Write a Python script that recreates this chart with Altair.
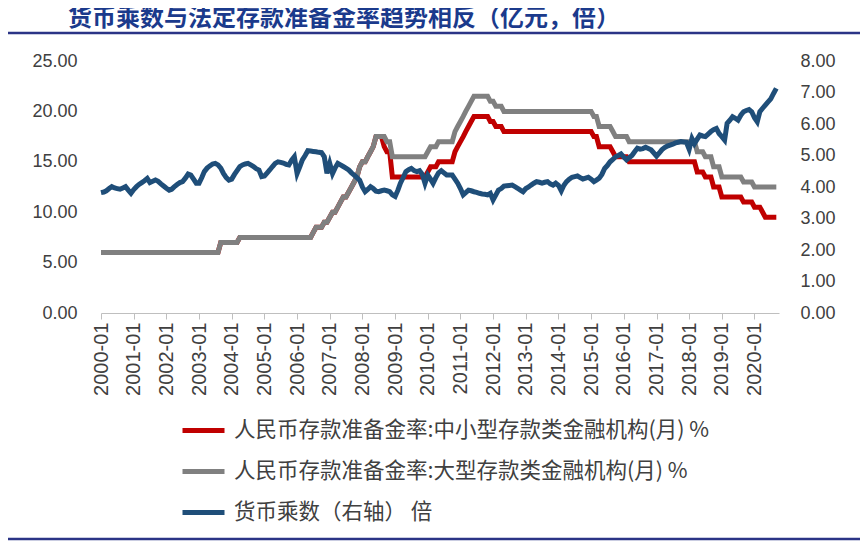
import altair as alt
import pandas as pd

TITLE = "货币乘数与法定存款准备金率趋势相反（亿元，倍）"
SMALL = "人民币存款准备金率:中小型存款类金融机构(月) %"
LARGE = "人民币存款准备金率:大型存款类金融机构(月) %"
MULT = "货币乘数（右轴） 倍"

# Monthly values, 2000-01 .. 2020-09
small_rrr = (
    [6, 6, 6, 6, 6, 6, 6, 6, 6, 6, 6, 6]
    + [6, 6, 6, 6, 6, 6, 6, 6, 6, 6, 6, 6]
    + [6, 6, 6, 6, 6, 6, 6, 6, 6, 6, 6, 6]
    + [6, 6, 6, 6, 6, 6, 6, 6, 7, 7, 7, 7]
    + [7, 7, 7, 7.5, 7.5, 7.5, 7.5, 7.5, 7.5, 7.5, 7.5, 7.5]
    + [7.5, 7.5, 7.5, 7.5, 7.5, 7.5, 7.5, 7.5, 7.5, 7.5, 7.5, 7.5]
    + [7.5, 7.5, 7.5, 7.5, 7.5, 7.5, 8, 8.5, 8.5, 8.5, 9, 9]
    + [9.5, 10, 10, 10.5, 11, 11.5, 11.5, 12, 12.5, 13, 13.5, 14.5]
    + [15, 15, 15.5, 16, 16.5, 17.5, 17.5, 17.5, 16.5, 16, 16, 13.5]
    + [13.5, 13.5, 13.5, 13.5, 13.5, 13.5, 13.5, 13.5, 13.5, 13.5, 13.5, 13.5]
    + [14, 14.5, 14.5, 14.5, 15, 15, 15, 15, 15, 15, 16, 16.5]
    + [17, 17.5, 18, 18.5, 19, 19.5, 19.5, 19.5, 19.5, 19.5, 19.5, 19]
    + [19, 18.5, 18.5, 18.5, 18, 18, 18, 18, 18, 18, 18, 18]
    + [18, 18, 18, 18, 18, 18, 18, 18, 18, 18, 18, 18]
    + [18, 18, 18, 18, 18, 18, 18, 18, 18, 18, 18, 18]
    + [18, 17.5, 17.5, 16.5, 16.5, 16.5, 16.5, 16.5, 16, 15.5, 15.5, 15.5]
    + [15.5, 15.5, 15, 15, 15, 15, 15, 15, 15, 15, 15, 15]
    + [15, 15, 15, 15, 15, 15, 15, 15, 15, 15, 15, 15]
    + [15, 15, 15, 14, 14, 14, 13.5, 13.5, 13.5, 12.5, 12.5, 12.5]
    + [11.5, 11.5, 11.5, 11.5, 11.5, 11.5, 11.5, 11.5, 11, 11, 11, 11]
    + [10.5, 10.5, 10.5, 10, 9.5, 9.5, 9.5, 9.5, 9.5]
)

large_rrr = (
    [6, 6, 6, 6, 6, 6, 6, 6, 6, 6, 6, 6]
    + [6, 6, 6, 6, 6, 6, 6, 6, 6, 6, 6, 6]
    + [6, 6, 6, 6, 6, 6, 6, 6, 6, 6, 6, 6]
    + [6, 6, 6, 6, 6, 6, 6, 6, 7, 7, 7, 7]
    + [7, 7, 7, 7.5, 7.5, 7.5, 7.5, 7.5, 7.5, 7.5, 7.5, 7.5]
    + [7.5, 7.5, 7.5, 7.5, 7.5, 7.5, 7.5, 7.5, 7.5, 7.5, 7.5, 7.5]
    + [7.5, 7.5, 7.5, 7.5, 7.5, 7.5, 8, 8.5, 8.5, 8.5, 9, 9]
    + [9.5, 10, 10, 10.5, 11, 11.5, 11.5, 12, 12.5, 13, 13.5, 14.5]
    + [15, 15, 15.5, 16, 16.5, 17.5, 17.5, 17.5, 17.5, 17, 17, 15.5]
    + [15.5, 15.5, 15.5, 15.5, 15.5, 15.5, 15.5, 15.5, 15.5, 15.5, 15.5, 15.5]
    + [16, 16.5, 16.5, 16.5, 17, 17, 17, 17, 17, 17, 18, 18.5]
    + [19, 19.5, 20, 20.5, 21, 21.5, 21.5, 21.5, 21.5, 21.5, 21.5, 21]
    + [21, 20.5, 20.5, 20.5, 20, 20, 20, 20, 20, 20, 20, 20]
    + [20, 20, 20, 20, 20, 20, 20, 20, 20, 20, 20, 20]
    + [20, 20, 20, 20, 20, 20, 20, 20, 20, 20, 20, 20]
    + [20, 19.5, 19.5, 18.5, 18.5, 18.5, 18.5, 18.5, 18, 17.5, 17.5, 17.5]
    + [17.5, 17.5, 17, 17, 17, 17, 17, 17, 17, 17, 17, 17]
    + [17, 17, 17, 17, 17, 17, 17, 17, 17, 17, 17, 17]
    + [17, 17, 17, 16, 16, 16, 15.5, 15.5, 15.5, 14.5, 14.5, 14.5]
    + [13.5, 13.5, 13.5, 13.5, 13.5, 13.5, 13.5, 13.5, 13, 13, 13, 13]
    + [12.5, 12.5, 12.5, 12.5, 12.5, 12.5, 12.5, 12.5, 12.5]
)

multiplier = (
    [3.82, 3.84, 3.88, 3.95, 4.01, 3.97, 3.95, 3.93, 3.97, 4.01, 3.90, 3.80]
    + [3.92, 4.01, 4.08, 4.14, 4.20, 4.27, 4.14, 4.18, 4.22, 4.18, 4.10, 4.03]
    + [3.96, 3.90, 3.93, 4.01, 4.08, 4.14, 4.17, 4.28, 4.41, 4.38, 4.25, 4.12]
    + [4.12, 4.30, 4.49, 4.60, 4.67, 4.73, 4.75, 4.70, 4.60, 4.43, 4.30, 4.22]
    + [4.25, 4.40, 4.52, 4.65, 4.70, 4.73, 4.75, 4.70, 4.65, 4.58, 4.54, 4.33]
    + [4.35, 4.45, 4.54, 4.65, 4.75, 4.80, 4.78, 4.76, 4.72, 4.70, 4.85, 4.96]
    + [4.43, 4.65, 4.86, 5.00, 5.15, 5.14, 5.13, 5.12, 5.10, 5.09, 4.96, 4.43]
    + [4.75, 4.43, 4.60, 4.75, 4.70, 4.65, 4.60, 4.54, 4.45, 4.38, 4.30, 4.22]
    + [4.00, 3.85, 3.92, 4.01, 3.95, 3.87, 3.85, 3.88, 3.90, 3.88, 3.85, 3.75]
    + [3.70, 3.90, 4.12, 4.30, 4.49, 4.55, 4.59, 4.52, 4.49, 4.52, 4.40, 4.12]
    + [4.38, 4.25, 4.12, 4.30, 4.45, 4.52, 4.45, 4.38, 4.38, 4.38, 4.25, 4.12]
    + [3.95, 3.75, 3.82, 3.90, 3.88, 3.85, 3.83, 3.80, 3.78, 3.77, 3.75, 3.80]
    + [3.59, 3.75, 3.90, 3.95, 4.03, 4.04, 4.05, 4.06, 4.01, 3.96, 3.90, 3.85]
    + [3.95, 4.00, 4.06, 4.12, 4.17, 4.15, 4.12, 4.15, 4.17, 4.10, 4.06, 4.12]
    + [4.05, 3.88, 4.05, 4.17, 4.25, 4.31, 4.33, 4.35, 4.30, 4.25, 4.28, 4.31]
    + [4.25, 4.17, 4.22, 4.28, 4.40, 4.59, 4.68, 4.80, 4.88, 4.96, 5.00, 5.05]
    + [4.95, 4.86, 4.93, 5.00, 5.12, 5.23, 5.20, 5.22, 5.26, 5.22, 5.18, 5.08]
    + [4.98, 5.08, 5.18, 5.25, 5.30, 5.33, 5.36, 5.40, 5.42, 5.44, 5.43, 5.42]
    + [5.20, 5.54, 5.38, 5.52, 5.65, 5.62, 5.60, 5.68, 5.76, 5.82, 5.86, 5.70]
    + [5.60, 5.49, 6.02, 6.12, 6.23, 6.18, 6.12, 6.28, 6.39, 6.43, 6.46, 6.39]
    + [6.20, 6.07, 6.39, 6.50, 6.60, 6.70, 6.80, 6.97, 7.13]
)

tick_years = list(range(2000, 2021))

months = pd.date_range("2000-01-01", periods=len(multiplier), freq="MS")
small_df = pd.DataFrame({"date": months, "series": SMALL, "value": small_rrr})
large_df = pd.DataFrame({"date": months, "series": LARGE, "value": large_rrr})
mult_df = pd.DataFrame({"date": months, "series": MULT, "value": multiplier})

NUM_FONT = "Liberation Sans"
CJK_FONT = "Noto Sans CJK SC"
TXT = "#404040"

x_enc = alt.X(
    "date:T",
    title=None,
    scale=alt.Scale(domain=[alt.DateTime(year=2000, month=1, date=1),
                            alt.DateTime(year=2020, month=10, date=1)]),
    axis=alt.Axis(
        values=[alt.DateTime(year=y, month=1, date=1) for y in tick_years],
        format="%Y-%m",
        labelAngle=270,
        labelFont=NUM_FONT,
        labelFontSize=20,
        labelColor=TXT,
        labelPadding=3,
        tickSize=6,
        tickColor="#BFBFBF",
        domainColor="#BFBFBF",
        grid=False,
        labelOverlap=False,
    ),
)

color_enc = alt.Color(
    "series:N",
    scale=alt.Scale(domain=[SMALL, LARGE, MULT],
                    range=["#C00000", "#808080", "#1F4E79"]),
    legend=alt.Legend(
        title=None,
        orient="none",
        legendX=79,
        legendY=346,
        direction="vertical",
        symbolType="stroke",
        symbolSize=1764,
        symbolStrokeWidth=5,
        labelFont=CJK_FONT,
        labelFontSize=21.5,
        labelColor=TXT,
        labelLimit=800,
        labelOffset=7,
        rowPadding=7,
    ),
)

left_y = alt.Y(
    "value:Q",
    title=None,
    scale=alt.Scale(domain=[0, 25]),
    axis=alt.Axis(orient="left", values=[0, 5, 10, 15, 20, 25], format=".2f",
                  grid=False, domain=False, ticks=False, labelPadding=24,
                  labelFont=NUM_FONT, labelFontSize=18, labelColor=TXT),
)
right_y = alt.Y(
    "value:Q",
    title=None,
    scale=alt.Scale(domain=[0, 8]),
    axis=alt.Axis(orient="right", values=[0, 1, 2, 3, 4, 5, 6, 7, 8], format=".2f",
                  grid=False, domain=False, ticks=False, labelPadding=21,
                  labelFont=NUM_FONT, labelFontSize=18, labelColor=TXT),
)

red = alt.Chart(small_df).mark_line(strokeWidth=5).encode(x=x_enc, y=left_y, color=color_enc)
gray = alt.Chart(large_df).mark_line(strokeWidth=5).encode(x=x_enc, y=left_y, color=color_enc)
blue = alt.Chart(mult_df).mark_line(strokeWidth=5).encode(x=x_enc, y=right_y, color=color_enc)

one = pd.DataFrame({"k": [0]})
top_rule = alt.Chart(one).mark_rule(color="#2B3486", strokeWidth=2.5).encode(
    x=alt.value(-93), x2=alt.value(759), y=alt.value(-28))
bottom_rule = alt.Chart(one).mark_rule(color="#2B3486", strokeWidth=2.5).encode(
    x=alt.value(-93), x2=alt.value(759), y=alt.value(478))

chart = (
    alt.layer(alt.layer(red, gray), blue, top_rule, bottom_rule)
    .resolve_scale(y="independent")
    .properties(
        width=678,
        height=252,
        autosize=alt.AutoSizeParams(type="none"),
        padding={"left": 93, "top": 53, "right": 81, "bottom": 228},
        title=alt.TitleParams(
            text=TITLE, anchor="start", frame="group", dx=-33, offset=1,
            font=CJK_FONT, fontSize=24, fontWeight="bold", color="#1B3A8C",
        ),
    )
    .configure_view(strokeWidth=0)
)

chart.save("out.html", embed_options={"renderer": "svg", "actions": False})
